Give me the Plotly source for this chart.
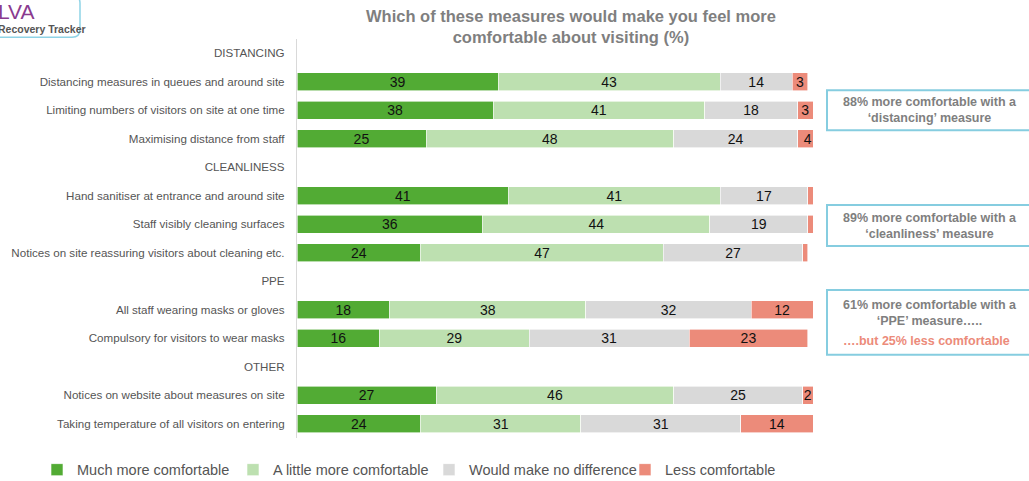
import plotly.graph_objects as go

# ---------------- data ----------------
row_labels = [
    "DISTANCING",
    "Distancing measures in queues and around site",
    "Limiting numbers of visitors on site at one time",
    "Maximising distance from staff",
    "CLEANLINESS",
    "Hand sanitiser at entrance and around site",
    "Staff visibly cleaning surfaces",
    "Notices on site reassuring visitors about cleaning etc.",
    "PPE",
    "All staff wearing masks or gloves",
    "Compulsory for visitors to wear masks",
    "OTHER",
    "Notices on website about measures on site",
    "Taking temperature of all visitors on entering",
]
much_more = [None, 39, 38, 25, None, 41, 36, 24, None, 18, 16, None, 27, 24]
little_more = [None, 43, 41, 48, None, 41, 44, 47, None, 38, 29, None, 46, 31]
no_difference = [None, 14, 18, 24, None, 17, 19, 27, None, 32, 31, None, 25, 31]
less = [None, 3, 3, 4, None, 1, 1, 1, None, 12, 23, None, 2, 14]

series_names = ["Much more comfortable", "A little more comfortable",
                "Would make no difference", "Less comfortable"]
series_values = [much_more, little_more, no_difference, less]
series_colors = ["#52ab34", "#bde0b0", "#d9d9d9", "#ec8b7a"]

title_text = "Which of these measures would make you feel more<br>comfortable about visiting (%)"
callouts = [
    ("88% more comfortable with a<br>‘distancing’ measure", None),
    ("89% more comfortable with a<br>‘cleanliness’ measure", None),
    ("61% more comfortable with a<br>‘PPE’ measure…..", "….but 25% less comfortable"),
]

# ---------------- layout helpers ----------------
W, H = 1029, 481
PL, PR = 297, 813          # plot area left/right pixel
PT, PB = 38.75, 438.25     # plot area top/bottom pixel


def px(x):
    return (x - PL) / (PR - PL)


def py(y):
    return (PB - y) / (PB - PT)


fig = go.Figure()
ys = list(range(len(row_labels)))
for name, vals, col in zip(series_names, series_values, series_colors):
    txt = ["" if (v is None or v < 2) else str(v) for v in vals]
    fig.add_trace(go.Bar(
        y=ys, x=vals, name=name, orientation="h",
        marker=dict(color=col, line=dict(color="white", width=0.6)),
        text=txt, textposition="inside", insidetextanchor="middle",
        constraintext="none",
        textfont=dict(color="#111111", size=14, family="Liberation Sans, Arial"),
        textangle=0, width=0.63, hoverinfo="x+name",
    ))

fig.update_layout(
    barmode="stack",
    width=W, height=H,
    margin=dict(l=PL, r=W - PR, t=PT, b=H - PB, pad=0, autoexpand=False),
    paper_bgcolor="white", plot_bgcolor="white",
    font=dict(family="Liberation Sans, Arial", color="#555555"),
    showlegend=True,
    legend=dict(orientation="h", x=px(37), xanchor="left", y=py(470), yanchor="middle",
                font=dict(size=14.5, color="#555555"), itemwidth=30,
                entrywidth=151, entrywidthmode="pixels", traceorder="normal",
                bgcolor="rgba(0,0,0,0)"),
)
fig.update_xaxes(range=[0, 100], visible=False, showgrid=False, zeroline=False, fixedrange=True)
fig.update_yaxes(range=[len(row_labels) - 0.5, -0.5], tickmode="array", tickvals=ys,
                 ticktext=row_labels, showgrid=False, zeroline=False,
                 showline=True, linecolor="#d9d9d9", linewidth=1.2, ticks="",
                 ticklabelstandoff=9,
                 tickfont=dict(size=11.6, color="#555555", family="Liberation Sans, Arial"))

# Title
fig.add_annotation(text="<b>" + title_text + "</b>", xref="paper", yref="paper",
                   x=px(571), y=py(26), xanchor="center", yanchor="middle",
                   showarrow=False, font=dict(size=16.5, color="#7f7f7f"), align="center")

# Callout boxes
box_color = "#86cde0"
boxes = [(90, 130), (205, 246), (290, 355)]
centers = [110, 225.5, 313]
for (t, b), c, (main, extra) in zip(boxes, centers, callouts):
    fig.add_shape(type="rect", xref="paper", yref="paper",
                  x0=px(827), x1=px(1035), y0=py(b), y1=py(t),
                  line=dict(color=box_color, width=2), fillcolor="white")
    fig.add_annotation(text="<b>" + main + "</b>", xref="paper", yref="paper",
                       x=px(930), y=py(c), xanchor="center", yanchor="middle",
                       showarrow=False, font=dict(size=12.5, color="#7f7f7f"), align="center")
    if extra:
        fig.add_annotation(text="<b>" + extra + "</b>", xref="paper", yref="paper",
                           x=px(926), y=py(341), xanchor="center", yanchor="middle",
                           showarrow=False, font=dict(size=12.5, color="#ec8b7a"), align="center")

# Logo
fig.add_shape(type="path", xref="paper", yref="paper",
              path=("M {x0},{y0} L {x1},{y0} Q {x2},{y0} {x2},{y1} L {x2},{y2} "
                    "Q {x2},{y3} {x1},{y3} L {x0},{y3} Z").format(
                  x0=px(-10), x1=px(72), x2=px(80), y0=py(-5), y1=py(3), y2=py(29), y3=py(37)),
              line=dict(color="#8fd3e6", width=1.5), fillcolor="white")
fig.add_annotation(text="LVA", xref="paper", yref="paper", x=px(-4), y=py(11),
                   xanchor="left", yanchor="middle", showarrow=False,
                   font=dict(size=21, color="#8a3b8f", family="Liberation Sans, Arial"))
fig.add_annotation(text="<b>Recovery Tracker</b>", xref="paper", yref="paper", x=px(-4), y=py(29),
                   xanchor="left", yanchor="middle", showarrow=False,
                   font=dict(size=10.5, color="#555555"))

fig.write_html("out.html")
